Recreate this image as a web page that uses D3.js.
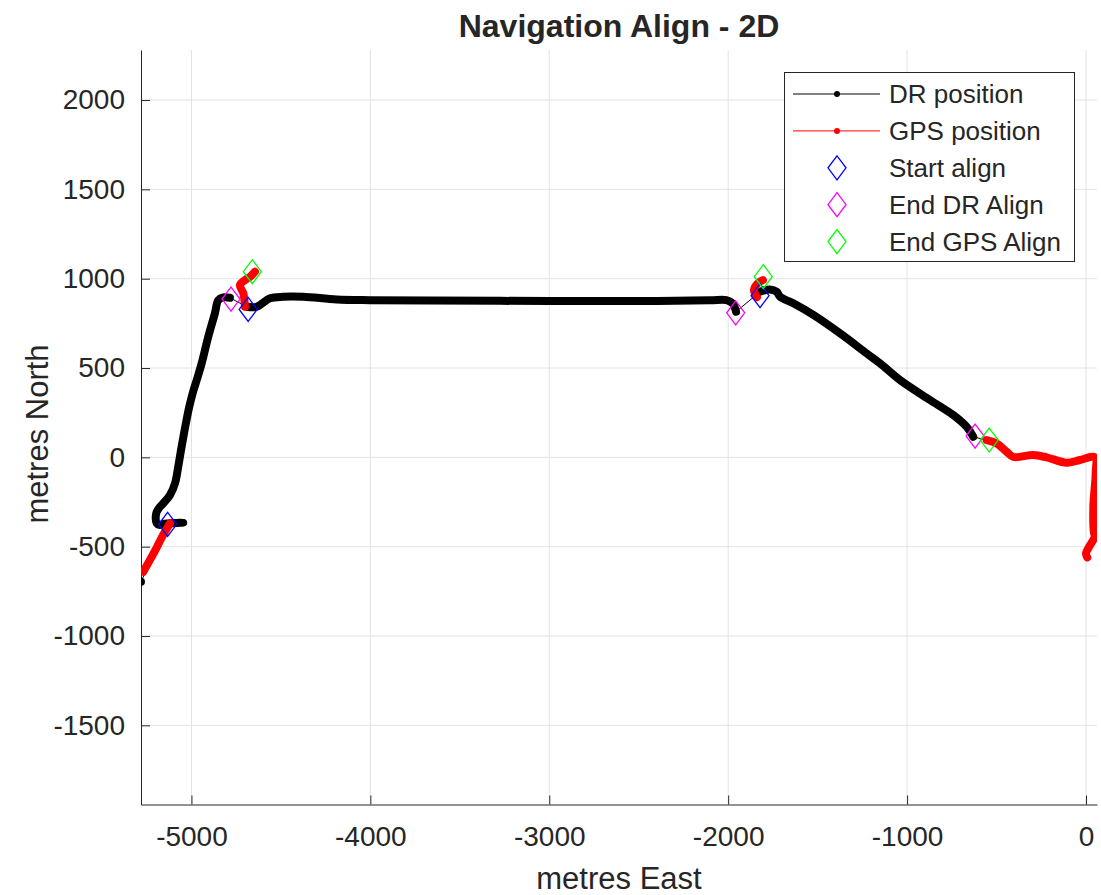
<!DOCTYPE html>
<html>
<head>
<meta charset="utf-8">
<script src="https://cdn.jsdelivr.net/npm/d3@7"></script>
<style>
  body { margin: 0; background: #fff; }
  text { font-family: "Liberation Sans", Arial, sans-serif; fill: #262626; }
</style>
</head>
<body>
<div id="chart"></div>
<script>
// dead-reckoning track, drawn in pieces (gaps are jumps joined by a thin line)
const drStart = [[-5282, -696]]
const drWest = [[-5130, -370], [-5046, -366], [-5100, -368], [-5150, -372], [-5180, -378],
  [-5195, -368], [-5200, -338], [-5196, -310], [-5183, -286], [-5160, -260],
  [-5120, -211], [-5092, -146], [-5074, -53], [-5055, 59], [-5035, 170], [-5013, 280],
  [-4990, 370], [-4965, 450], [-4943, 526], [-4906, 675], [-4869, 806], [-4850, 880],
  [-4822, 895], [-4785, 893]]
const drCentral = [[-4691, 843], [-4636, 843], [-4561, 890], [-4487, 899], [-4375, 899],
  [-4188, 884], [-4002, 880], [-3667, 878], [-2996, 875], [-2437, 875], [-2100, 879],
  [-2010, 880], [-1975, 862], [-1962, 835], [-1956, 815]]
const drEast = [[-1822, 927], [-1766, 940], [-1729, 927], [-1710, 899], [-1636, 862],
  [-1524, 797], [-1375, 694], [-1226, 582], [-1151, 526], [-1040, 433], [-872, 321],
  [-742, 237], [-667, 171], [-630, 115]]
const drTail = [[-574, 101]]

// GPS track pieces
const gpsWest = [[-5269, -640], [-5204, -524], [-5159, -435], [-5120, -369]]
const gpsCorner = [[-4701, 843], [-4710, 918], [-4729, 964], [-4701, 992], [-4673, 1010], [-4645, 1039]]
const gpsMid = [[-1839, 897], [-1856, 937], [-1833, 976], [-1806, 992]]
const gpsEast = [[-555, 97], [-499, 78], [-443, 31], [-406, 2], [-295, 13], [-220, 0],
  [-108, -30], [-34, -15], [50, 0], [54, -90], [41, -277], [45, -425], [50, -441],
  [18, -500], [0, -537], [7, -560]]

// alignment markers
const startAlign = [[-5133, -375], [-4683, 828], [-1822, 905]]
const endDrAlign = [[-4779, 886], [-1958, 809], [-620, 119]]
const endGpsAlign = [[-4660, 1039], [-1804, 1011], [-541, 97]]

const xTicks = [-5000, -4000, -3000, -2000, -1000, 0]
const yTicks = [-1500, -1000, -500, 0, 500, 1000, 1500, 2000]

const legendItems = [
  { label: "DR position", kind: "line", color: "#000000" },
  { label: "GPS position", kind: "line", color: "#ff0000" },
  { label: "Start align", kind: "diamond", color: "#0000ff" },
  { label: "End DR Align", kind: "diamond", color: "#ff00ff" },
  { label: "End GPS Align", kind: "diamond", color: "#00ff00" }
]

const width = 1101
const height = 895
const margin = ({ top: 50, right: 4, bottom: 90.5, left: 141 })

const x = d3.scaleLinear()
  .domain([-5282, 61.5])
  .range([margin.left, width - margin.right])

const y = d3.scaleLinear()
  .domain([-1943, 2280])
  .range([height - margin.bottom, margin.top])

const svg = d3.select("#chart")
  .append("svg")
  .attr("width", width)
  .attr("height", height)

svg.append("rect").attr("width", width).attr("height", height).attr("fill", "#fff")

svg.append("defs").append("clipPath").attr("id", "plot")
  .append("rect")
  .attr("x", margin.left).attr("y", margin.top)
  .attr("width", width - margin.right - margin.left)
  .attr("height", height - margin.bottom - margin.top)

// grid
svg.append("g")
  .attr("stroke", "#e3e3e3")
  .attr("stroke-width", 1)
  .call(g => g.selectAll(".vx").data(xTicks).join("line")
    .attr("x1", d => x(d)).attr("x2", d => x(d))
    .attr("y1", margin.top).attr("y2", height - margin.bottom))
  .call(g => g.selectAll(".hy").data(yTicks).join("line")
    .attr("class", "hy")
    .attr("x1", margin.left).attr("x2", width - margin.right)
    .attr("y1", d => y(d)).attr("y2", d => y(d)))

const xAxis = g => g
  .attr("transform", `translate(0,${height - margin.bottom})`)
  .call(d3.axisBottom(x).tickValues(xTicks).tickFormat(d => String(d))
    .tickSizeInner(-9).tickSizeOuter(0).tickPadding(22))
  .call(g => g.select(".domain").attr("stroke", "#262626"))
  .call(g => g.selectAll(".tick line").attr("stroke", "#262626"))
  .call(g => g.selectAll("text").attr("font-size", 28).attr("fill", "#262626"))

const yAxis = g => g
  .attr("transform", `translate(${margin.left},0)`)
  .call(d3.axisLeft(y).tickValues(yTicks).tickFormat(d => String(d))
    .tickSizeInner(-9).tickSizeOuter(0).tickPadding(16))
  .call(g => g.select(".domain").attr("stroke", "#262626"))
  .call(g => g.selectAll(".tick line").attr("stroke", "#262626"))
  .call(g => g.selectAll("text").attr("font-size", 28).attr("fill", "#262626"))

svg.append("g").call(xAxis)
svg.append("g").call(yAxis)
svg.selectAll(".tick text").attr("font-family", "Liberation Sans, Arial, sans-serif")

const line = d3.line().x(d => x(d[0])).y(d => y(d[1]))
const smooth = d3.line().x(d => x(d[0])).y(d => y(d[1])).curve(d3.curveCatmullRom.alpha(0.5))
const plot = svg.append("g").attr("clip-path", "url(#plot)")

// thin connecting line through the whole DR series
const drAll = [...drStart, ...drWest, ...drCentral, ...drEast, ...drTail]
plot.append("path")
  .attr("d", line(drAll))
  .attr("fill", "none")
  .attr("stroke", "#000")
  .attr("stroke-width", 1)

// dense stretches look like a thick band of dots
const drawTrack = (parts, color) => {
  plot.append("g")
    .selectAll("path")
    .data(parts.filter(p => p.length > 1))
    .join("path")
    .attr("d", d => smooth(d))
    .attr("fill", "none")
    .attr("stroke", color)
    .attr("stroke-width", 8)
    .attr("stroke-linejoin", "round")
    .attr("stroke-linecap", "round")
  plot.append("g")
    .selectAll("circle")
    .data(parts.filter(p => p.length == 1).map(p => p[0]))
    .join("circle")
    .attr("cx", d => x(d[0])).attr("cy", d => y(d[1]))
    .attr("r", 4).attr("fill", color)
}

drawTrack([drStart, drWest, drCentral, drEast], "#000")

const gpsAll = [gpsWest, gpsCorner, gpsMid, gpsEast]
drawTrack(gpsAll, "#ff0000")

const diamond = (cx, cy) => `M${cx},${cy - 12}L${cx + 9},${cy}L${cx},${cy + 12}L${cx - 9},${cy}Z`

const drawDiamonds = (pts, color) => {
  plot.append("g")
    .selectAll("path")
    .data(pts)
    .join("path")
    .attr("d", d => diamond(x(d[0]), y(d[1])))
    .attr("fill", "none")
    .attr("stroke", color)
    .attr("stroke-width", 1.3)
}
drawDiamonds(startAlign, "#0000ff")
drawDiamonds(endDrAlign, "#ff00ff")
drawDiamonds(endGpsAlign, "#00ff00")

// title and axis labels
svg.append("text")
  .attr("x", (margin.left + width - margin.right) / 2)
  .attr("y", 37)
  .attr("text-anchor", "middle")
  .attr("font-size", 32)
  .attr("font-weight", "bold")
  .attr("fill", "#000")
  .text("Navigation Align - 2D")

svg.append("text")
  .attr("x", (margin.left + width - margin.right) / 2)
  .attr("y", 889)
  .attr("text-anchor", "middle")
  .attr("font-size", 31)
  .text("metres East")

svg.append("text")
  .attr("transform", `translate(48,434) rotate(-90)`)
  .attr("text-anchor", "middle")
  .attr("font-size", 31)
  .text("metres North")

// legend
const lg = svg.append("g")
lg.append("rect")
  .attr("x", 784.5).attr("y", 72.5)
  .attr("width", 290).attr("height", 189)
  .attr("fill", "#fff")
  .attr("stroke", "#262626")
  .attr("stroke-width", 1)

const item = lg.selectAll(".item")
  .data(legendItems)
  .join("g")
  .attr("transform", (d, i) => `translate(0,${94 + i * 36.9})`)

item.filter(d => d.kind == "line")
  .call(g => g.append("line")
    .attr("x1", 793).attr("x2", 880)
    .attr("stroke", d => d.color).attr("stroke-width", 1))
  .call(g => g.append("circle")
    .attr("cx", 837).attr("r", 3).attr("fill", d => d.color))

item.filter(d => d.kind == "diamond")
  .append("path")
  .attr("d", diamond(837, 0))
  .attr("fill", "none")
  .attr("stroke", d => d.color)
  .attr("stroke-width", 1.3)

item.append("text")
  .attr("x", 889)
  .attr("dy", "0.35em")
  .attr("font-size", 26)
  .text(d => d.label)
</script>
</body>
</html>
